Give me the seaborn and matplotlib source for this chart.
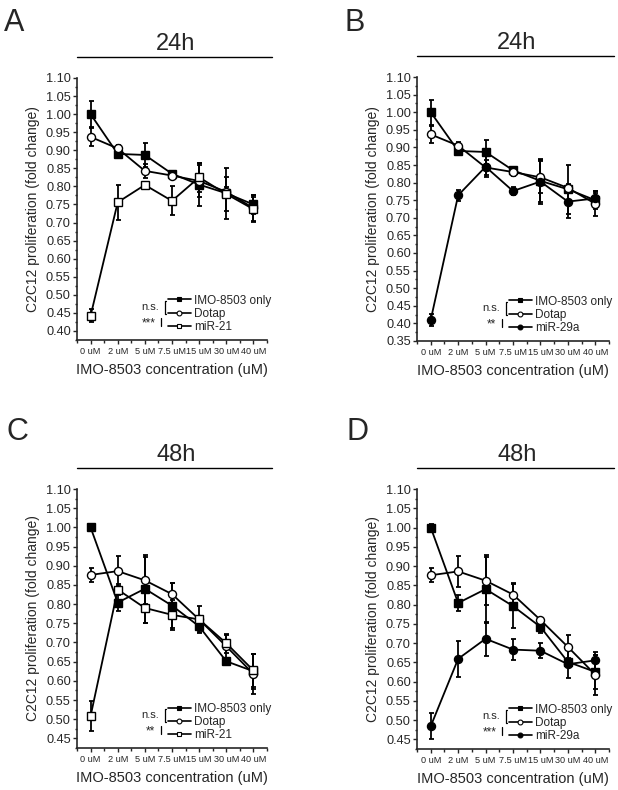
import numpy as np
import pandas as pd
import matplotlib
matplotlib.use("Agg")
import matplotlib.pyplot as plt
from matplotlib.lines import Line2D
from matplotlib.ticker import MultipleLocator, FormatStrFormatter
import seaborn as sns

sns.set_style("ticks")
plt.rcParams["font.family"] = ["Liberation Sans", "DejaVu Sans"]

conc = ["0 uM", "2 uM", "5 uM", "7.5 uM", "15 uM", "30 uM", "40 uM"]

# 24h (mean, error)
imo_24 = [1.000, 0.890, 0.887, 0.835, 0.805, 0.781, 0.750]
imo_24_err = [0.035, 0.010, 0.034, 0.008, 0.060, 0.070, 0.025]
dotap_24 = [0.937, 0.905, 0.843, 0.830, 0.815, 0.785, 0.740]
dotap_24_err = [0.025, 0.010, 0.020, 0.010, 0.045, 0.012, 0.035]
mir21_24 = [0.442, 0.756, 0.804, 0.760, 0.825, 0.779, 0.737]
mir21_24_err = [0.018, 0.048, 0.006, 0.040, 0.040, 0.048, 0.035]
mir29_24 = [0.410, 0.764, 0.845, 0.776, 0.803, 0.746, 0.755]
mir29_24_err = [0.018, 0.015, 0.030, 0.012, 0.065, 0.048, 0.015]

# 48h (mean, error)
imo_48 = [1.000, 0.804, 0.840, 0.796, 0.742, 0.651, 0.625]
imo_48_err = [0.010, 0.022, 0.088, 0.058, 0.015, 0.006, 0.045]
dotap_48 = [0.876, 0.886, 0.862, 0.826, 0.760, 0.690, 0.618]
dotap_48_err = [0.018, 0.040, 0.062, 0.030, 0.006, 0.030, 0.052]
mir21_48 = [0.508, 0.838, 0.790, 0.772, 0.760, 0.698, 0.627]
mir21_48_err = [0.040, 0.015, 0.040, 0.040, 0.036, 0.025, 0.042]
mir29_48 = [0.484, 0.659, 0.711, 0.683, 0.680, 0.645, 0.655]
mir29_48_err = [0.034, 0.046, 0.044, 0.028, 0.020, 0.036, 0.022]

panels = [
    dict(letter="A", lxy=(0.006, 0.961), title="24h", rect=[0.1246, 0.5696, 0.3074, 0.3317],
         ylim=(0.375, 1.10), ybot=0.40,
         series=[("IMO-8503 only", imo_24, imo_24_err, "s", "black"),
                 ("Dotap", dotap_24, dotap_24_err, "o", "white"),
                 ("miR-21", mir21_24, mir21_24_err, "s", "white")], stars="***"),
    dict(letter="B", lxy=(0.558, 0.961), title="24h", rect=[0.6748, 0.5684, 0.3106, 0.3341],
         ylim=(0.35, 1.10), ybot=0.35,
         series=[("IMO-8503 only", imo_24, imo_24_err, "s", "black"),
                 ("Dotap", dotap_24, dotap_24_err, "o", "white"),
                 ("miR-29a", mir29_24, mir29_24_err, "o", "black")], stars="**"),
    dict(letter="C", lxy=(0.010, 0.443), title="48h", rect=[0.1246, 0.0532, 0.3074, 0.3278],
         ylim=(0.425, 1.10), ybot=0.45,
         series=[("IMO-8503 only", imo_48, imo_48_err, "s", "black"),
                 ("Dotap", dotap_48, dotap_48_err, "o", "white"),
                 ("miR-21", mir21_48, mir21_48_err, "s", "white")], stars="**"),
    dict(letter="D", lxy=(0.560, 0.443), title="48h", rect=[0.6748, 0.0520, 0.3106, 0.3290],
         ylim=(0.425, 1.10), ybot=0.45,
         series=[("IMO-8503 only", imo_48, imo_48_err, "s", "black"),
                 ("Dotap", dotap_48, dotap_48_err, "o", "white"),
                 ("miR-29a", mir29_48, mir29_48_err, "o", "black")], stars="***"),
]

fig = plt.figure(figsize=(6.18, 7.90), dpi=100)
pos = np.arange(len(conc))

for p in panels:
    ax = fig.add_axes(p["rect"])
    handles = []
    for label, vals, errs, mk, fc in p["series"]:
        df = pd.DataFrame({"pos": pos, "value": vals, "err": errs})
        ax.errorbar(df["pos"], df["value"], yerr=df["err"], fmt="none", ecolor="black",
                    elinewidth=1.3, capsize=1.8, capthick=1.3, zorder=2)
        sns.lineplot(data=df, x="pos", y="value", ax=ax, color="black", linewidth=1.3,
                     marker=mk, markersize=5.2 if mk == "s" else 5.8, markerfacecolor=fc,
                     markeredgecolor="black", markeredgewidth=1.0, zorder=3)
        handles.append(Line2D([], [], color="black", lw=1.2, marker=mk, markersize=3.5,
                              markerfacecolor=fc, markeredgecolor="black", markeredgewidth=0.8))

    ax.set_xlim(-0.5, 6.5)
    ax.set_ylim(*p["ylim"])
    ax.set_xticks(pos)
    ax.set_xticklabels(conc, fontsize=6.6)
    ax.xaxis.set_minor_locator(MultipleLocator(0.5))
    ax.set_yticks(np.arange(p["ybot"], 1.1001, 0.05))
    ax.yaxis.set_major_formatter(FormatStrFormatter("%.2f"))
    ax.yaxis.set_minor_locator(MultipleLocator(0.025))
    ax.tick_params(axis="y", labelsize=9.2, length=3, width=1, pad=1.5)
    ax.tick_params(axis="x", length=3, width=1, pad=2)
    ax.tick_params(which="minor", length=1.8, width=1)
    sns.despine(ax=ax)
    for s in ("left", "bottom"):
        ax.spines[s].set_linewidth(1.2)
    ax.set_xlabel("IMO-8503 concentration (uM)", fontsize=10.5, labelpad=5)
    ax.set_ylabel("C2C12 proliferation (fold change)", fontsize=10, labelpad=4)

    # heading with rule
    ax.plot([0, 1.025], [1.08, 1.08], transform=ax.transAxes, clip_on=False, color="black", lw=1)
    ax.text(0.52, 1.13, p["title"], transform=ax.transAxes, ha="center", va="center", fontsize=17)
    fig.text(p["lxy"][0], p["lxy"][1], p["letter"], fontsize=22, ha="left", va="baseline")

    leg = ax.legend(handles, [s[0] for s in p["series"]], loc="lower left",
                    bbox_to_anchor=(0.48, 0.025), frameon=False, fontsize=8.5,
                    handlelength=1.9, handletextpad=0.3, labelspacing=0.12,
                    borderpad=0, borderaxespad=0)
    fig.canvas.draw()
    r = fig.canvas.get_renderer()
    inv = ax.transAxes.inverted()
    ys = []
    for t in leg.get_texts():
        e = t.get_window_extent(r)
        ys.append(inv.transform((e.x0, (e.y0 + e.y1) / 2))[1])
    hx = inv.transform((leg.legend_handles[0].get_window_extent(r).x0, 0))[0]
    bx1 = hx - 0.005
    bx2 = hx - 0.025
    ax.plot([hx, bx1, bx1, hx], [ys[0], ys[0], ys[1], ys[1]], transform=ax.transAxes,
            color="black", lw=0.9, clip_on=False)
    ax.plot([bx2, bx2], [ys[1] - 0.015, ys[2] + 0.005], transform=ax.transAxes,
            color="black", lw=0.9, clip_on=False)
    ax.text(bx1 - 0.03, (ys[0] + ys[1]) / 2, "n.s.", transform=ax.transAxes,
            ha="right", va="center", fontsize=8)
    ax.text(bx2 - 0.03, (ys[1] + ys[2]) / 2 - 0.01, p["stars"], transform=ax.transAxes,
            ha="right", va="center", fontsize=8.5)

fig.savefig("out.png", dpi=100)
